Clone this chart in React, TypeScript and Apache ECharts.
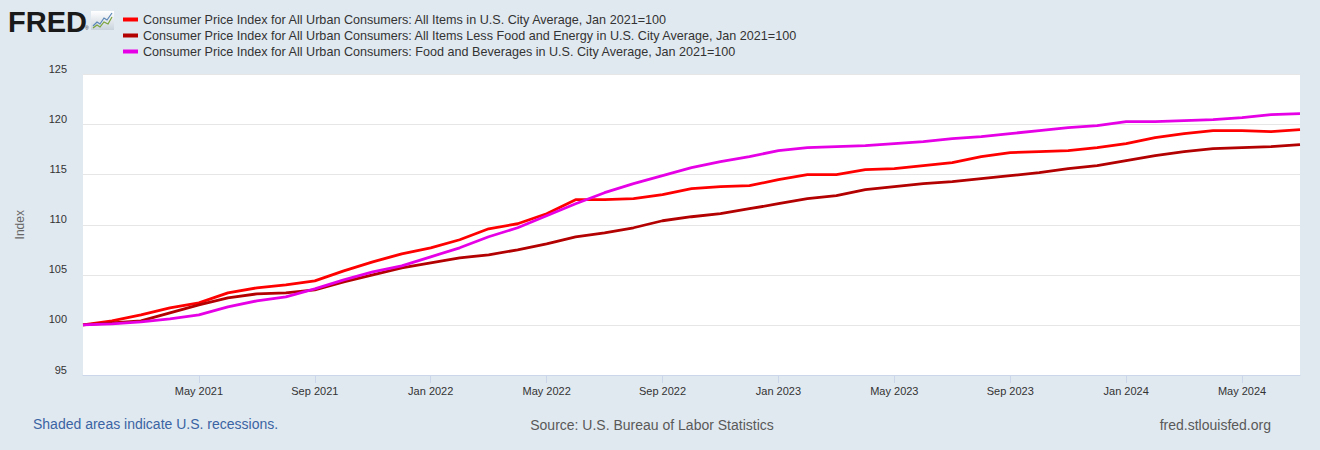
import React, { useEffect, useRef } from "react";
import * as echarts from "echarts";

const months: string[] = [
  "Jan 2021", "Feb 2021", "Mar 2021", "Apr 2021", "May 2021", "Jun 2021", "Jul 2021", "Aug 2021", "Sep 2021", "Oct 2021", "Nov 2021", "Dec 2021",
  "Jan 2022", "Feb 2022", "Mar 2022", "Apr 2022", "May 2022", "Jun 2022", "Jul 2022", "Aug 2022", "Sep 2022", "Oct 2022", "Nov 2022", "Dec 2022",
  "Jan 2023", "Feb 2023", "Mar 2023", "Apr 2023", "May 2023", "Jun 2023", "Jul 2023", "Aug 2023", "Sep 2023", "Oct 2023", "Nov 2023", "Dec 2023",
  "Jan 2024", "Feb 2024", "Mar 2024", "Apr 2024", "May 2024", "Jun 2024", "Jul 2024",
];

const allItems: number[] = [
  100.0, 100.4, 101.0, 101.7, 102.2, 103.2, 103.7, 104.0, 104.4, 105.4, 106.3, 107.1,
  107.7, 108.5, 109.6, 110.1, 111.1, 112.5, 112.5, 112.6, 113.0, 113.6, 113.8, 113.9,
  114.5, 115.0, 115.0, 115.5, 115.6, 115.9, 116.2, 116.8, 117.2, 117.3, 117.4, 117.7,
  118.1, 118.7, 119.1, 119.4, 119.4, 119.3, 119.5,
];

const coreItems: number[] = [
  100.0, 100.2, 100.4, 101.2, 102.0, 102.7, 103.1, 103.2, 103.5, 104.3, 105.0, 105.7,
  106.2, 106.7, 107.0, 107.5, 108.1, 108.8, 109.2, 109.7, 110.4, 110.8, 111.1, 111.6,
  112.1, 112.6, 112.9, 113.5, 113.8, 114.1, 114.3, 114.6, 114.9, 115.2, 115.6, 115.9,
  116.4, 116.9, 117.3, 117.6, 117.7, 117.8, 118.0,
];

const foodItems: number[] = [
  100.0, 100.1, 100.3, 100.6, 101.0, 101.8, 102.4, 102.8, 103.6, 104.5, 105.3, 105.9,
  106.8, 107.7, 108.8, 109.7, 110.9, 112.1, 113.2, 114.1, 114.9, 115.7, 116.3, 116.8,
  117.4, 117.7, 117.8, 117.9, 118.1, 118.3, 118.6, 118.8, 119.1, 119.4, 119.7, 119.9,
  120.3, 120.3, 120.4, 120.5, 120.7, 121.0, 121.1,
];

const seriesNames: string[] = [
  "Consumer Price Index for All Urban Consumers: All Items in U.S. City Average, Jan 2021=100",
  "Consumer Price Index for All Urban Consumers: All Items Less Food and Energy in U.S. City Average, Jan 2021=100",
  "Consumer Price Index for All Urban Consumers: Food and Beverages in U.S. City Average, Jan 2021=100",
];

const seriesColors: string[] = ["#ff0000", "#b30000", "#e600e6"];

const FONT = "'Liberation Sans', Arial, sans-serif";

export default function App() {
  const ref = useRef<HTMLDivElement>(null);

  useEffect(() => {
    if (!ref.current) return;
    const chart = echarts.init(ref.current, null, { renderer: "svg" });
    const data = [allItems, coreItems, foodItems];
    chart.setOption({
      animation: false,
      backgroundColor: "#e1e9f0",
      textStyle: { fontFamily: FONT },
      grid: { left: 83, right: 20, top: 74.5, bottom: 75, containLabel: false, show: true, backgroundColor: "#ffffff", borderWidth: 0 },
      legend: {
        orient: "vertical",
        left: 118,
        top: 7,
        itemWidth: 15,
        itemHeight: 4,
        itemGap: 1,
        icon: "rect",
        selectedMode: false,
        textStyle: { fontSize: 12.6, color: "#333333", fontFamily: FONT, lineHeight: 15, padding: [0, 0, 0, 0] },
        data: seriesNames.map((n, i) => ({ name: n, itemStyle: { color: seriesColors[i] } })),
      },
      xAxis: {
        type: "category",
        data: months,
        boundaryGap: false,
        axisLine: { show: true, lineStyle: { color: "#ccd6eb", width: 1 } },
        axisTick: {
          show: true,
          length: 8,
          lineStyle: { color: "#ccd6eb" },
          interval: (i: number) => i % 4 === 0 && i > 0,
        },
        axisLabel: {
          interval: (i: number) => i % 4 === 0 && i > 0,
          color: "#333333",
          fontSize: 11,
          margin: 10,
          fontFamily: FONT,
        },
        splitLine: { show: false },
      },
      yAxis: {
        type: "value",
        min: 95,
        max: 125,
        interval: 5,
        name: "Index",
        nameLocation: "middle",
        nameGap: 57,
        nameRotate: 90,
        nameTextStyle: { color: "#666666", fontSize: 12, fontFamily: FONT },
        axisLine: { show: false },
        axisTick: { show: false },
        axisLabel: {
          color: "#333333",
          fontSize: 11,
          margin: 16,
          verticalAlign: "bottom",
          fontFamily: FONT,
        },
        splitLine: { show: true, lineStyle: { color: "#e6e6e6", width: 1 } },
      },
      series: data.map((d, i) => ({
        name: seriesNames[i],
        type: "line",
        data: d,
        showSymbol: false,
        symbol: "none",
        color: seriesColors[i],
        lineStyle: { color: seriesColors[i], width: 2.8 },
        z: 2 + i,
      })),
      graphic: [
        {
          type: "text",
          left: 8,
          top: 7,
          style: { text: "FRED", fontSize: 29, fontWeight: 900, fill: "#1a1a1a", fontFamily: FONT },
        },
        {
          type: "text",
          left: 85,
          top: 25,
          style: { text: "®", fontSize: 5, fill: "#333", fontFamily: FONT },
        },
        {
          type: "rect",
          shape: { x: 91, y: 11, width: 23, height: 19 },
          style: {
            fill: new echarts.graphic.LinearGradient(0, 0, 0, 1, [
              { offset: 0, color: "#ffffff" },
              { offset: 1, color: "#c9d3dc" },
            ]),
            stroke: "none",
          },
        },
        {
          type: "polyline",
          shape: { points: [[93, 26], [97, 22], [100, 24], [104, 18], [107, 20], [112, 13]] },
          style: { stroke: "#5b86b5", lineWidth: 1.2, fill: "none" },
        },
        {
          type: "polyline",
          shape: { points: [[93, 28], [97, 25], [100, 27], [104, 22], [108, 24], [112, 17]] },
          style: { stroke: "#7aa33a", lineWidth: 1.2, fill: "none" },
        },
        {
          type: "text",
          left: 33,
          top: 417,
          style: { text: "Shaded areas indicate U.S. recessions.", fontSize: 14, fill: "#3a64a3", fontFamily: FONT },
        },
        {
          type: "text",
          x: 652,
          y: 425,
          style: { text: "Source: U.S. Bureau of Labor Statistics", fontSize: 14, fill: "#595959", fontFamily: FONT, align: "center", verticalAlign: "middle" },
        },
        {
          type: "text",
          x: 1271,
          y: 425,
          style: { text: "fred.stlouisfed.org", fontSize: 14, fill: "#595959", fontFamily: FONT, align: "right", verticalAlign: "middle" },
        },
      ],
    });
    return () => chart.dispose();
  }, []);

  return <div ref={ref} style={{ width: 1320, height: 450, position: "absolute", left: 0, top: 0 }} />;
}
